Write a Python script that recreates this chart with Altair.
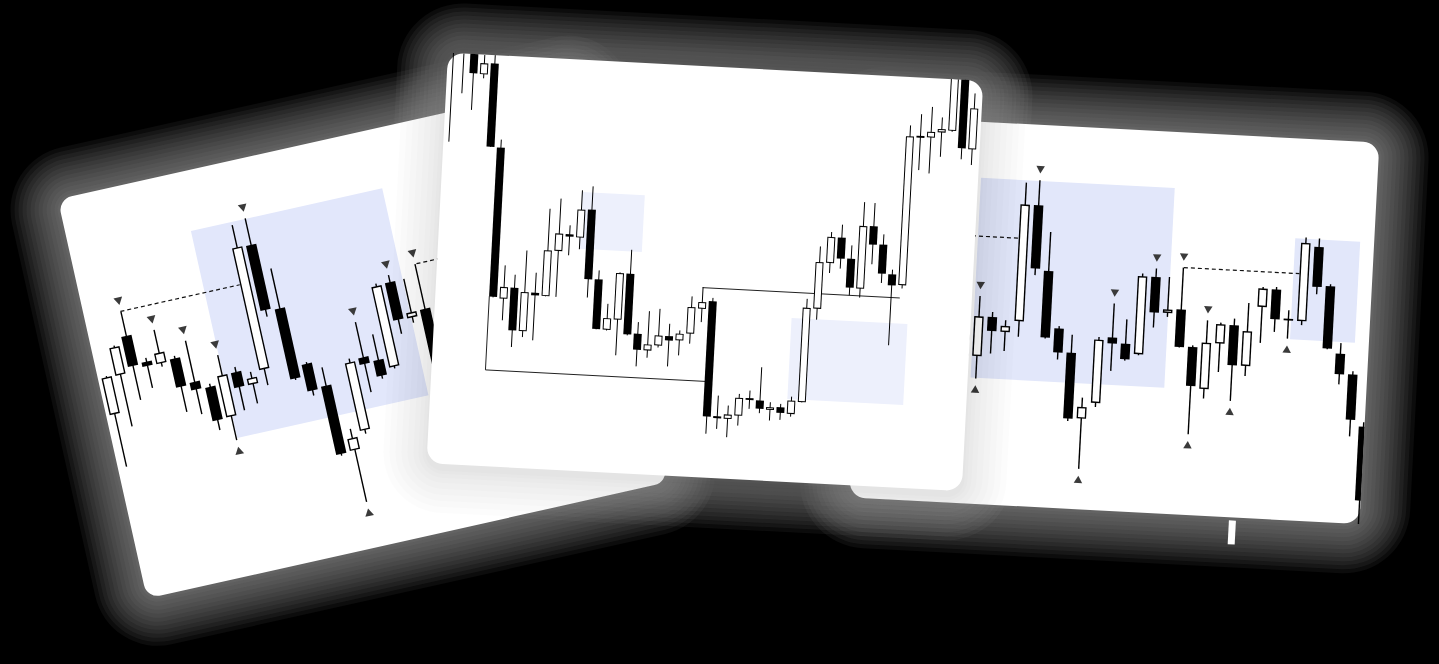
import math
import pandas as pd
import altair as alt

CANVAS_W, CANVAS_H = 1439, 664

# ---------- card frames: top-left corner (px), rotation (deg), size, corner radius
CARD_NAME = ["left", "right", "middle"]          # paint order
CARD_X0 = [57.8, 869.1, 448.0]
CARD_Y0 = [199.4, 115.9, 52.7]
CARD_ROT = [-12.6, 3.0, 3.0]
CARD_W = [534, 511, 536]
CARD_H = [409, 382, 411]
CARD_R = [14, 16, 16]

# ---------- candles: price levels measured downward from each card's top edge
LEFT_START, LEFT_STEP = 8.8, 14.16
LEFT_OPEN = [221.9, 184.8, 148.1, 177.7, 182.5, 180.6, 207.8, 216.1, 249.6, 207.3, 222.9, 210.6,
             86.6, 154.8, 214.7, 240.3, 309.3, 292.0, 220.7, 226.6, 236.5, 153.2, 192.4, 186.8]
LEFT_HIGH = [183, 155, 123.2, 173.9, 148.4, 178.2, 165.8, 213, 186.9, 202.2, 210.3, 63.1,
             59.4, 113.9, 213, 221.5, 287.8, 219, 184.7, 200.5, 151.5, 146.1, 153.1, 141]
LEFT_LOW = [275.8, 237.8, 213.7, 204.6, 186, 235.5, 240.9, 260.4, 274, 246.5, 242.6, 227,
            160, 228, 247.2, 311.9, 362.6, 295.7, 256.5, 245.7, 238.5, 206.1, 197.8, 260]
LEFT_CLOSE = [184.2, 156.5, 178.9, 182.1, 171.7, 209.7, 215.6, 250.2, 207.4, 222.7, 216.4, 85.9,
              153.2, 226.6, 242, 310.2, 297.1, 222.7, 227.5, 242.7, 154.2, 191.7, 187.2, 250]
LEFT_TOP_MARKS = [2, 4, 6, 8, 12, 18, 21, 23]
LEFT_BOTTOM_MARKS = [8, 16]
LEFT_ZONES = [(123, 319, 60, 272)]                       # u1, u2, v1, v2
LEFT_LINES = []
LEFT_DASHES = [(36.7, 123, 159, 123), (336, 141, 420, 141)]

MID_START, MID_STEP = 5.5, 10.46
MID_OPEN = [-30, -20, -10, 19.7, 8.3, 92, 242.7, 231.2, 274.1, 235.1, 237.9, 192.2, 175, 177.7,
            149.2, 218.5, 268.4, 257.7, 211.2, 270.7, 286.9, 281.4, 271.5, 275.2, 267.9, 242.4,
            234.4, 349, 351, 347.2, 330.6, 331, 339.8, 336.7, 342.8, 330.4, 236.3, 190, 164.1,
            184.6, 214, 151.1, 168.9, 198.1, 208.4, 59.9, 59.4, 53.8, 51.6, -20, 69.1]
MID_HIGH = [-40, -30, -15, 0.4, 0, 84, 209.4, 218.2, 193.4, 215.1, 150.5, 139.8, 166, 130.4,
            125.9, 209.5, 242.4, 210.4, 187.2, 259.1, 247.6, 244.7, 259.1, 265.2, 230.6, 220.8,
            231, 328.3, 337.7, 325.5, 321.6, 297.7, 332.2, 333.3, 325.5, 227, 174, 159, 151.1,
            171.3, 127.4, 127.8, 158.6, 193.4, 48.4, 36.6, 28.8, 38.8, -30, -30, 13.1]
MID_LOW = [88.8, 39.8, 55.9, 23.7, 91.7, 242, 264.4, 290.6, 280.1, 282.8, 238.2, 238.2, 196,
           189.4, 237.2, 268.5, 269.1, 293.4, 272.9, 303.4, 294.2, 283.4, 301.8, 290.2, 277.9,
           255.8, 367, 361.6, 369.4, 357.2, 339.9, 343.7, 350.5, 349.3, 345.5, 330.7, 247.3, 200,
           195.1, 221.3, 223, 189.1, 207.3, 269.1, 211.7, 92.6, 95.4, 78.2, 52.6, 79.6, 84.8]
MID_CLOSE = [-10, -5, 19.2, 8.7, 91.7, 241.4, 231.1, 273.9, 235.1, 237.8, 192.2, 174.8, 177.3,
             149.7, 218.9, 268.2, 256.8, 211.1, 271.9, 286.7, 280.9, 271.4, 275.8, 268.5, 241.3,
             235.8, 349.7, 351, 346.7, 329.5, 329.6, 339.3, 337.2, 342.3, 329.5, 236, 189.7, 164,
             185.1, 213.6, 151.4, 169.4, 197.9, 209.1, 59.4, 58.6, 53.8, 50.5, -20, 68.6, 28.1]
MID_TOP_MARKS = []
MID_BOTTOM_MARKS = []
MID_ZONES = [(141, 204, 132, 189), (357, 473, 247, 328)]
MID_LINES = [(54, 241, 54, 314.8), (54, 314.8, 277.5, 314.8), (266.6, 221.3, 464, 221.3)]
MID_DASHES = []

RIGHT_START, RIGHT_STEP = 106.8, 13.44
RIGHT_OPEN = [200, 234.1, 194.4, 208.7, 197.1, 80.3, 145.5, 202.4, 225.9, 291.2, 274.8, 208.6,
              214, 223.8, 145.8, 181.1, 177.1, 213.9, 255.2, 209, 190, 230, 170.2, 152.1, 181.8,
              182.3, 107.3, 146, 212.8, 232.9, 284.5]
RIGHT_HIGH = [190, 174.1, 189.4, 197, 58.4, 55.3, 106.5, 200, 207.9, 270.2, 208.8, 174.6, 189.7,
              143.1, 137.4, 145.1, 135.1, 212.2, 186.5, 188, 183.3, 167, 150.2, 149.5, 172.2,
              98.6, 98.9, 144, 202.2, 229.6, 280]
RIGHT_LOW = [245, 256.7, 231, 227.7, 212.8, 150.3, 213, 233.4, 294.3, 341.5, 278.8, 242, 231,
             225, 196.4, 185.1, 215, 301.2, 264.8, 237.4, 265.7, 240, 206.2, 194.5, 200.5, 186.3,
             154.6, 209, 243.5, 294.9, 400]
RIGHT_CLOSE = [234, 194.4, 208.4, 202.7, 80.4, 143.6, 212.1, 226.4, 291.9, 279.6, 211.4, 214.6,
               229.7, 145.8, 181.4, 177.7, 214.5, 252.9, 208.8, 189.7, 230, 195.3, 151.8, 181.8,
               181.2, 104, 147.3, 208.3, 233.5, 278.2, 358.5]
RIGHT_TOP_MARKS = [1, 5, 11, 14, 16, 18]
RIGHT_BOTTOM_MARKS = [1, 9, 17, 20, 24]
RIGHT_ZONES = [(115, 309, 56, 256), (432, 497, 100, 201)]
RIGHT_LINES = []
RIGHT_DASHES = [(60, 114.3, 155, 114.3), (322.3, 135, 438, 135)]
RIGHT_EXTRA = [(384, 385, 384, 409, 7)]

# ---------- styles
BODY_W = [10.5, 9.5, 8.0]
LINE_W = [1.4, 1.4, 1.0]
MARK_SIZE = [78, 72, 60]
ZONE_COLOR = ["#E2E7FB", "#E2E7FA", "#EDF0FC"]
MARK_COLOR = "#3a3a3a"
HALO_DIST = [50, 46, 42, 38, 34, 30, 26, 22, 18, 14, 10, 6, 3]
HALO_OP = 0.075
HALO_COLOR = "#a4a4a4"
SHADOW_DIST = [44, 38, 32, 26, 20, 14, 9, 5, 2]
SHADOW_OP = 0.012


def frame(k):
    t = math.radians(CARD_ROT[k])
    return CARD_X0[k], CARD_Y0[k], math.cos(t), math.sin(t)


def pt(k, u, v):
    x0, y0, c, s = frame(k)
    return x0 + u * c - v * s, y0 + u * s + v * c


def seg(k, u1, v1, u2, v2, w, col, op=1.0):
    x1, y1 = pt(k, u1, v1)
    x2, y2 = pt(k, u2, v2)
    return dict(x=x1, y=y1, x2=x2, y2=y2, w=w, col=col, op=op)


def outline(k, d, col, op, gid, dy=0.0):
    r, W, H = CARD_R[k], CARD_W[k], CARD_H[k]
    corners = [(r, r), (W - r, r), (W - r, H - r), (r, H - r), (r, r)]
    rows = []
    for i, (u, v) in enumerate(corners):
        x, y = pt(k, u, v)
        rows.append(dict(g=gid, k=i, x=x, y=y + dy, w=2 * (r + d), col=col, op=op))
    return rows


XS = alt.X("x:Q", scale=alt.Scale(domain=[0, CANVAS_W], nice=False, zero=False), axis=None)
YS = alt.Y("y:Q", scale=alt.Scale(domain=[0, CANVAS_H], reverse=True, nice=False, zero=False), axis=None)


def line_layer(rows):
    return alt.Chart(pd.DataFrame(rows)).mark_line(strokeCap="round", strokeJoin="round").encode(
        x=XS, y=YS, detail="g:N", order="k:Q",
        strokeWidth=alt.StrokeWidth("w:Q", scale=None),
        color=alt.Color("col:N", scale=None),
        strokeOpacity=alt.StrokeOpacity("op:Q", scale=None),
    )


def rule_layer(rows, dash=None):
    kw = {"strokeCap": "butt"}
    if dash:
        kw["strokeDash"] = dash
    return alt.Chart(pd.DataFrame(rows)).mark_rule(**kw).encode(
        x=XS, y=YS, x2=alt.X2("x2:Q"), y2=alt.Y2("y2:Q"),
        strokeWidth=alt.StrokeWidth("w:Q", scale=None),
        color=alt.Color("col:N", scale=None),
        strokeOpacity=alt.StrokeOpacity("op:Q", scale=None),
    )


def point_layer(rows):
    return alt.Chart(pd.DataFrame(rows)).mark_point(filled=True, opacity=1, strokeWidth=0).encode(
        x=XS, y=YS,
        shape=alt.Shape("shape:N", scale=None),
        angle=alt.Angle("ang:Q", scale=None),
        size=alt.Size("size:Q", scale=None),
        color=alt.Color("col:N", scale=None),
    )


CARD_DATA = [
    dict(start=LEFT_START, step=LEFT_STEP, o=LEFT_OPEN, h=LEFT_HIGH, l=LEFT_LOW, c=LEFT_CLOSE,
         top=LEFT_TOP_MARKS, bot=LEFT_BOTTOM_MARKS, zones=LEFT_ZONES, lines=LEFT_LINES,
         dashes=LEFT_DASHES, extra=[]),
    dict(start=RIGHT_START, step=RIGHT_STEP, o=RIGHT_OPEN, h=RIGHT_HIGH, l=RIGHT_LOW, c=RIGHT_CLOSE,
         top=RIGHT_TOP_MARKS, bot=RIGHT_BOTTOM_MARKS, zones=RIGHT_ZONES, lines=RIGHT_LINES,
         dashes=RIGHT_DASHES, extra=RIGHT_EXTRA),
    dict(start=MID_START, step=MID_STEP, o=MID_OPEN, h=MID_HIGH, l=MID_LOW, c=MID_CLOSE,
         top=MID_TOP_MARKS, bot=MID_BOTTOM_MARKS, zones=MID_ZONES, lines=MID_LINES,
         dashes=MID_DASHES, extra=[]),
]


def card_layers(k):
    d = CARD_DATA[k]
    W, H, r = CARD_W[k], CARD_H[k], CARD_R[k]
    bw, lw = BODY_W[k], LINE_W[k]
    layers = []
    if k == 2:  # soft shadow of the front card onto the cards behind it
        sh = []
        for j, dd in enumerate(SHADOW_DIST):
            sh += outline(k, dd, "#000000", SHADOW_OP, "s%d" % j, dy=5)
        layers.append(line_layer(sh))
    layers.append(line_layer(outline(k, 0, "#ffffff", 1.0, "card")))

    rules = [seg(k, r - 0.5, H / 2, W - r + 0.5, H / 2, H - 2 * r + 1, "#ffffff")]
    for (u1, u2, v1, v2) in d["zones"]:
        rules.append(seg(k, u1, (v1 + v2) / 2, u2, (v1 + v2) / 2, v2 - v1, ZONE_COLOR[k]))
    for (u1, v1, u2, v2) in d["lines"]:
        rules.append(seg(k, u1, v1, u2, v2, 1.0, "#222222"))
    wicks, bodies, inners = [], [], []
    for i in range(len(d["o"])):
        u = d["start"] + d["step"] * i
        hi, lo = d["h"][i], d["l"][i]
        a, b = max(min(hi, lo), 0), min(max(hi, lo), H)
        if b > a:
            wicks.append(seg(k, u, a, u, b, lw, "#000000"))
        top, bot = min(d["o"][i], d["c"][i]), max(d["o"][i], d["c"][i])
        if bot - top < 1.8:
            m = (top + bot) / 2
            top, bot = m - 0.9, m + 0.9
        clipped_top = top < 0
        top, bot = max(top, 0), min(bot, H)
        if bot <= top:
            continue
        ul, ur = max(u - bw / 2, 0), min(u + bw / 2, W)
        uc, wid = (ul + ur) / 2, ur - ul
        bodies.append(seg(k, uc, top, uc, bot, wid, "#000000"))
        if d["c"][i] < d["o"][i] and bot - top > 2 * lw + 0.6:
            t0 = top if clipped_top else top + lw
            inners.append(seg(k, uc, t0, uc, bot - lw, wid - 2 * lw, "#ffffff"))
    rules += wicks + bodies + inners
    for (u1, v1, u2, v2, w) in d["extra"]:
        rules.append(seg(k, u1, v1, u2, v2, w, "#ffffff"))
    layers.append(rule_layer(rules))

    if d["dashes"]:
        dashes = [seg(k, u1, v1, u2, v2, 1.2, "#111111") for (u1, v1, u2, v2) in d["dashes"]]
        layers.append(rule_layer(dashes, dash=[4, 3]))

    marks = []
    ang = CARD_ROT[k] % 360
    for i in d["top"]:
        u = d["start"] + d["step"] * i
        x, y = pt(k, u, d["h"][i] - 10.5)
        marks.append(dict(x=x, y=y, shape="triangle-down", ang=ang, size=MARK_SIZE[k], col=MARK_COLOR))
    for i in d["bot"]:
        u = d["start"] + d["step"] * i
        x, y = pt(k, u, d["l"][i] + 10.5)
        marks.append(dict(x=x, y=y, shape="triangle-up", ang=ang, size=MARK_SIZE[k], col=MARK_COLOR))
    if marks:
        layers.append(point_layer(marks))
    return layers


halo_rows = []
for k in range(3):
    for j, dist in enumerate(HALO_DIST):
        halo_rows += outline(k, dist, HALO_COLOR, HALO_OP, "h%d_%d" % (k, j))

all_layers = [line_layer(halo_rows)]
for k in range(3):
    all_layers += card_layers(k)

chart = alt.layer(*all_layers).properties(
    width=CANVAS_W, height=CANVAS_H, padding=0,
    autosize=alt.AutoSizeParams(type="none"),
).configure(background="#000000").configure_view(stroke=None)

chart.save("out.html", embed_options={"renderer": "svg", "actions": False})
